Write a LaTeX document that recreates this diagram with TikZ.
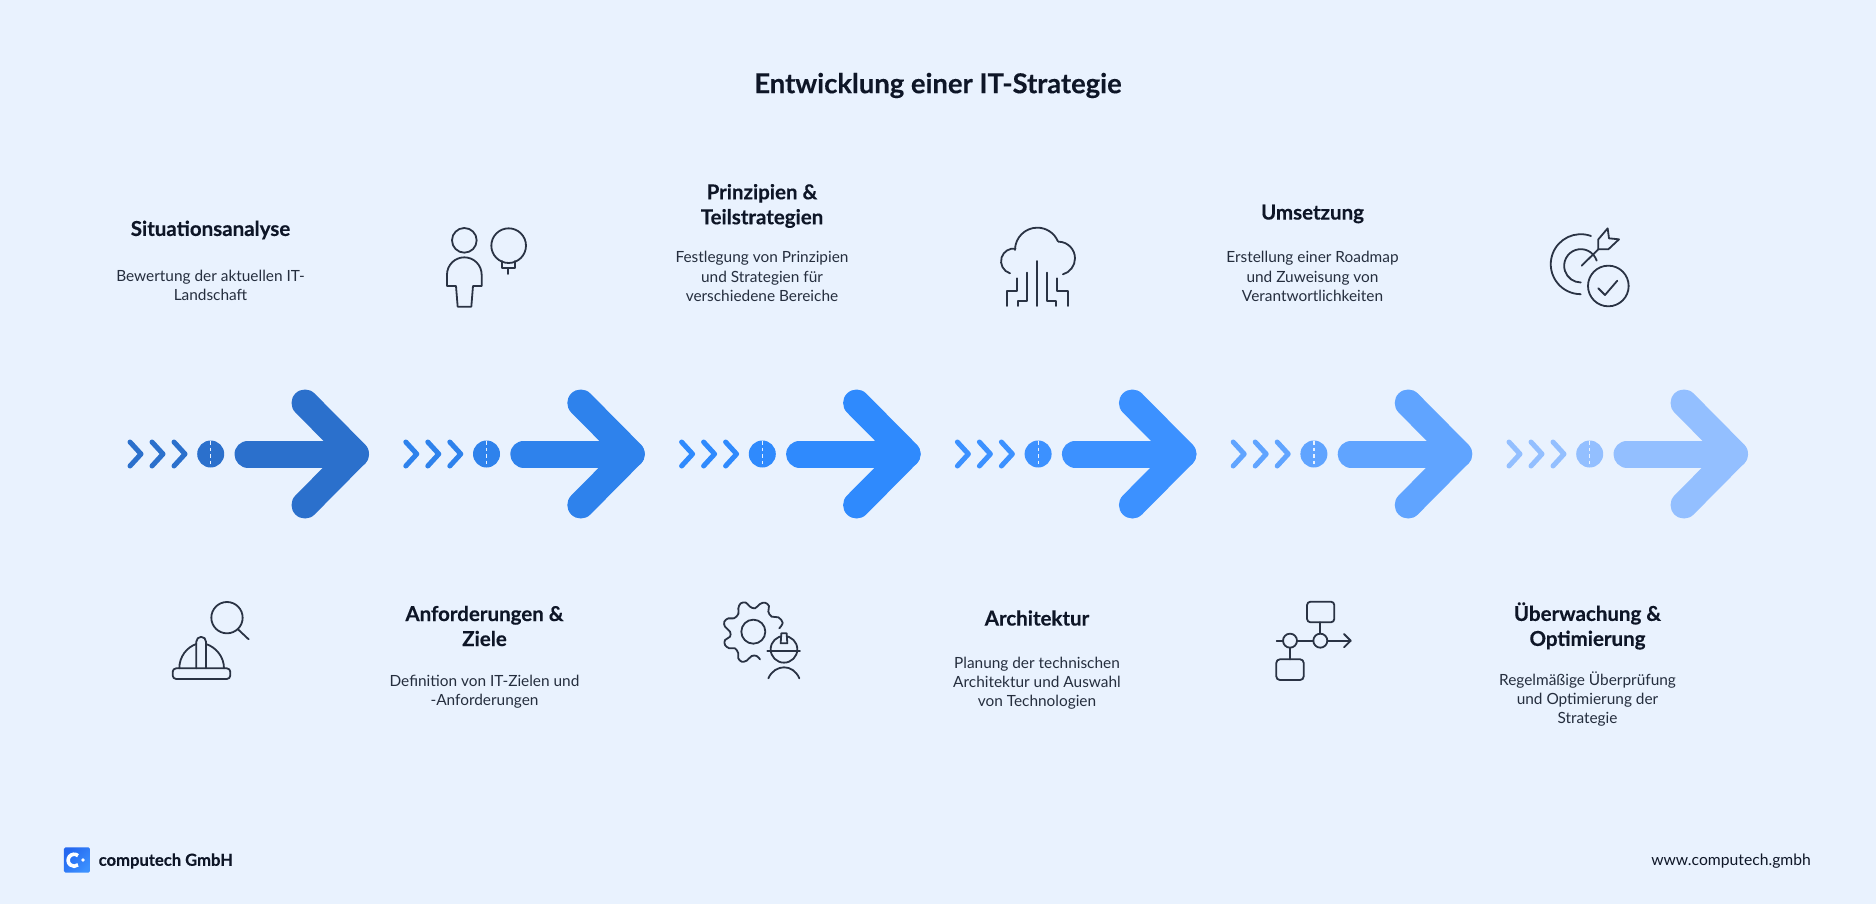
\documentclass[tikz,border=0pt]{standalone}
\usepackage{fontspec}
\setmainfont{Lato}[BoldFeatures={FakeBold=0.3}]
\usetikzlibrary{calc}
\definecolor{pagebg}{HTML}{E9F2FE}
\definecolor{inkdark}{HTML}{0E1627}
\definecolor{inktext}{HTML}{252E3E}
\definecolor{inkicon}{HTML}{2A3344}
\definecolor{stepa}{HTML}{2B70CC}
\definecolor{stepb}{HTML}{2E82EC}
\definecolor{stepc}{HTML}{2F8AFD}
\definecolor{stepd}{HTML}{3C91FF}
\definecolor{stepe}{HTML}{60A4FF}
\definecolor{stepf}{HTML}{93BFFF}
\tikzset{
  headtext/.style={font=\fontsize{20.5}{25}\selectfont\bfseries,text=inkdark,align=center},
  desctext/.style={font=\fontsize{15.4}{19.2}\selectfont,text=inktext,align=center},
  iconline/.style={draw=inkicon,line width=1.8pt,line cap=round,line join=round}
}
\begin{document}
\begin{tikzpicture}[x=1pt,y=-1pt]

\fill[pagebg] (0,0) rectangle (1876,904);
\useasboundingbox (0,0) rectangle (1876,904);

\node[font=\fontsize{27.4}{30}\selectfont\bfseries,text=inkdark] (title) at (938,85.5) {Entwicklung einer IT-Strategie};

% arrows
\foreach \i/\col in {0/stepa,1/stepb,2/stepc,3/stepd,4/stepe,5/stepf}{
\begin{scope}[xshift=\i*275.8pt]
\foreach \k in {0,22,44}{
\draw[\col,line width=5pt,line cap=round,line join=round] (130+\k,442) -- (141+\k,454) -- (130+\k,466);
}
\fill[\col] (210.7,454) circle (13.5);
\draw[pagebg,line width=1.2pt,dash pattern=on 3.5pt off 3pt] (210.7,441) -- (210.7,467);
\draw[\col,line width=27pt,line cap=round,line join=round] (248,454) -- (355.5,454);
\draw[\col,line width=27pt,line cap=round,line join=round] (305,403) -- (355.5,454) -- (305,505);
\end{scope}
}

% upper texts
\node[headtext] (headA) at (210.5,230) {Situationsanalyse};
\node[desctext] (descA) at (210.5,285.5) {Bewertung der aktuellen IT-\\Landschaft};
\node[headtext] (headC) at (762,206) {Prinzipien \&\\Teilstrategien};
\node[desctext] (descC) at (762,276.5) {Festlegung von Prinzipien\\und Strategien für\\verschiedene Bereiche};
\node[headtext] (headE) at (1312.5,214) {Umsetzung};
\node[desctext] (descE) at (1312.5,276.5) {Erstellung einer Roadmap\\und Zuweisung von\\Verantwortlichkeiten};

% lower texts
\node[headtext] (headB) at (484.5,626) {Anforderungen \&\\Ziele};
\node[desctext] (descB) at (484.5,691.5) {Definition von IT-Zielen und\\-Anforderungen};
\node[headtext] (headD) at (1037,618) {Architektur};
\node[desctext] (descD) at (1037,683.5) {Planung der technischen\\Architektur und Auswahl\\von Technologien};
\node[headtext] (headF) at (1587.5,626) {Überwachung \&\\Optimierung};
\node[desctext] (descF) at (1587.5,699) {Regelmäßige Überprüfung\\und Optimierung der\\Strategie};

% helmet and lens
\begin{scope}[shift={(150,580)},x=.3333pt,y=-.3333pt]
\draw[iconline] (231,113) circle (47);
\draw[iconline] (263,147) -- (296,178);
\draw[iconline,rounded corners=3.5pt] (68,265) rectangle (241,297);
\draw[iconline] (88,265) .. controls (88,230) and (110,202) .. (139,192);
\draw[iconline] (222,265) .. controls (222,230) and (198,202) .. (168,192);
\draw[iconline] (139,265) -- (139,185) arc[start angle=180,end angle=360,radius=14.5] -- (168,265);
\end{scope}

% person and bulb
\begin{scope}[shift={(400,200)},x=.3333pt,y=-.3333pt]
\draw[iconline] (193,121) circle (37);
\draw[iconline] (326,137) circle (52);
\draw[iconline] (305,183) -- (305,205) -- (345,205) -- (345,183);
\draw[iconline] (325,207) -- (325,222);
\draw[iconline] (141,224) arc[start angle=180,end angle=360,radius=52] -- (245,258) -- (219,258) -- (214,320) -- (173,320) -- (168,258) -- (141,258) -- cycle;
\end{scope}

% gear and worker
\begin{scope}[shift={(710,590)},x=.3333pt,y=-.3333pt]
\draw[iconline] (130,125) circle (36);
\draw[iconline] plot[smooth,tension=.6] coordinates {(208,115) (218,98) (205,82) (185,80) (175,65) (177,48) (165,38) (150,42) (135,55) (120,50) (108,38) (92,40) (85,55) (85,72) (72,85) (55,85) (43,95) (45,110) (60,125) (60,140) (45,150) (45,165) (58,175) (75,175) (85,190) (85,205) (95,215) (110,212) (125,198) (140,198) (150,208)};
\draw[iconline] (222,178) circle (40);
\draw[iconline] (172,183) -- (270,183);
\draw[iconline,fill=pagebg] (212,160) -- (214,130) -- (230,130) -- (232,160) -- cycle;
\draw[iconline] (175,265) .. controls (185,242) and (205,232) .. (222,232) .. controls (240,232) and (258,242) .. (268,265);
\end{scope}

% cloud
\begin{scope}[shift={(980,210)},x=.3333pt,y=-.3333pt]
\draw[iconline] (90,190) arc[start angle=107,end angle=278,radius=38];
\draw[iconline] (105,120) arc[start angle=180,end angle=337,radius=67];
\draw[iconline] (235,95) arc[start angle=270,end angle=434,radius=50];
\draw[iconline] (171,153) -- (171,288);
\draw[iconline] (140,188) -- (140,272) -- (115,272) -- (115,288);
\draw[iconline] (110,205) -- (110,242) -- (80,242) -- (80,288);
\draw[iconline] (201,188) -- (201,272) -- (228,272) -- (228,288);
\draw[iconline] (232,205) -- (232,242) -- (263,242) -- (263,288);
\end{scope}

% flow
\begin{scope}[shift={(1260,590)},x=.3333pt,y=-.3333pt]
\draw[iconline,rounded corners=3.5pt] (141,35) rectangle (223,97);
\draw[iconline,rounded corners=3.5pt] (49,208) rectangle (131,270);
\draw[iconline] (90,152) circle (21);
\draw[iconline] (181,152) circle (21);
\draw[iconline] (50,152) -- (69,152);
\draw[iconline] (111,152) -- (160,152);
\draw[iconline] (202,152) -- (272,152);
\draw[iconline] (252,132) -- (272,152) -- (252,172);
\draw[iconline] (181,97) -- (181,131);
\draw[iconline] (90,173) -- (90,208);
\end{scope}

% target
\begin{scope}[shift={(1530,210)},x=.3333pt,y=-.3333pt]
\draw[iconline] (183,78) arc[start angle=290,end angle=90,radius=90];
\draw[iconline] (200,152) arc[start angle=342,end angle=90,radius=50];
\draw[iconline] (235,228) circle (61);
\draw[iconline] (205,235) -- (225,255) -- (262,212);
\draw[iconline] (155,167) -- (205,118);
\draw[iconline] (205,118) -- (205,88) -- (233,55) -- (237,85) -- (267,88) -- (235,118) -- cycle;
\end{scope}

% footer
\begin{scope}[shift={(50,830)},x=.3333pt,y=-.3333pt]
\shade[left color=stepb!80!blue,right color=stepd,shading angle=45,rounded corners=1.5pt] (42,52) rectangle (120,128);
\draw[white,line width=3.6pt] (84,77) arc[start angle=310,end angle=50,radius=18];
\fill[white] (99,90) circle (5.5);
\end{scope}
\node[anchor=west,font=\fontsize{16.6}{20}\selectfont\bfseries,text=inkdark,inner sep=0pt] (brand) at (98.5,861) {computech GmbH};
\node[anchor=east,font=\fontsize{15.7}{20}\selectfont,text=inkdark,inner sep=0pt] (web) at (1811,861) {www.computech.gmbh};

\end{tikzpicture}
\end{document}
